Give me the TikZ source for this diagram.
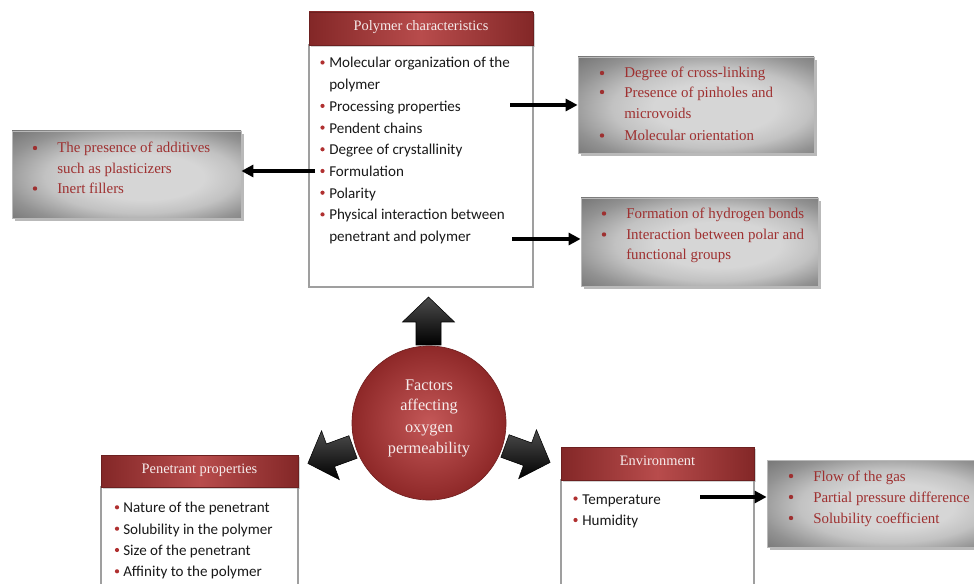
\documentclass[tikz,border=0pt]{standalone}
\usepackage{fontspec}
\setmainfont{Liberation Serif}
\newfontfamily\calib{Carlito}
\usetikzlibrary{fit,shadows,arrows.meta}
\definecolor{hdr}{HTML}{9A2E2E}
\definecolor{hdrlight}{HTML}{B84C4C}
\definecolor{txtred}{HTML}{9E3030}
\definecolor{bul}{HTML}{B03030}
\definecolor{circout}{HTML}{8E2828}
\definecolor{circin}{HTML}{C45858}
\definecolor{lighttxt}{HTML}{F6ECEC}
\definecolor{gin}{HTML}{D6D6D6}
\definecolor{gmid}{HTML}{C2C2C2}
\definecolor{gout}{HTML}{929292}
\definecolor{gcorner}{HTML}{6C6C6C}
\pgfdeclareradialshading{grayglow}{\pgfpoint{5bp}{-2bp}}{color(0bp)=(gin); color(13bp)=(gin); color(21bp)=(gmid); color(30bp)=(gout); color(40bp)=(gcorner); color(60bp)=(gcorner)}
\tikzset{
  hdrbox/.style={inner sep=0pt, draw=hdr!70!black, line width=0.6pt,
    left color=hdr!85!black, right color=hdr!85!black, middle color=hdrlight,
    drop shadow={shadow xshift=1.2pt, shadow yshift=-1.2pt, opacity=0.35}},
  hdrtext/.style={anchor=base, inner sep=0pt, text=lighttxt, font=\fontsize{10.8}{12}\selectfont},
  bodybox/.style={inner sep=0pt, draw=gray!75, line width=1.1pt, fill=white},
  graybox/.style={inner sep=0pt, draw=gray!55, line width=0.6pt, shading=grayglow,
    drop shadow={shadow xshift=2pt, shadow yshift=-2pt, opacity=0.55}},
  citem/.style={anchor=base west, inner sep=0pt, text=black!90, font=\calib\fontsize{11.3}{13}\selectfont},
  titem/.style={anchor=base west, inner sep=0pt, text=txtred, font=\fontsize{11.2}{13}\selectfont},
  ctext/.style={anchor=base, inner sep=0pt, text=lighttxt, font=\fontsize{12.2}{14}\selectfont},
  linkarrow/.style={line width=2.4pt, -{Triangle[length=9pt,width=9pt]}},
  blockarrow/.style={top color=gray!60!black, bottom color=black, middle color=black!85, draw=black, line width=0.4pt},
}
\begin{document}
\begin{tikzpicture}[x=0.75pt,y=-0.75pt]
\useasboundingbox (0,0) rectangle (974,584);
\clip (0,0) rectangle (974,584);
\fill[white] (0,0) rectangle (974,584);

% ---------- Polymer characteristics ----------
\node[bodybox, fit={(309,45)(533,287)}] (pcb) {};
\node[hdrbox, fit={(309,12)(533,45)}] (pch) {};
\node[hdrtext] (pcht) at (421,31) {Polymer characteristics};
\foreach \yy in {62.5,105.9,127.6,149.3,171.0,192.7,214.4} {\fill[bul] (322.5,\yy) circle (2.1);}
\node[citem] (pc1) at (329,68) {Molecular organization of the};
\node[citem] (pc1b) at (329,89.7) {polymer};
\node[citem] (pc2) at (329,111.4) {Processing properties};
\node[citem] (pc3) at (329,133.1) {Pendent chains};
\node[citem] (pc4) at (329,154.8) {Degree of crystallinity};
\node[citem] (pc5) at (329,176.5) {Formulation};
\node[citem] (pc6) at (329,198.2) {Polarity};
\node[citem] (pc7) at (329,219.9) {Physical interaction between};
\node[citem] (pc7b) at (329,241.6) {penetrant and polymer};

% ---------- gray box 1 ----------
\node[graybox, fit={(578,57)(814,153)}] (g1) {};
\foreach \yy in {73,92,135.5} {\fill[txtred] (602,\yy) circle (2.2);}
\node[titem] (g1a) at (624,78) {Degree of cross-linking};
\node[titem] (g1b) at (624,97.5) {Presence of pinholes and};
\node[titem] (g1c) at (624,118.5) {microvoids};
\node[titem] (g1d) at (624,140.5) {Molecular orientation};

% ---------- left gray box ----------
\node[graybox, fit={(12,131)(241,218)}] (lb) {};
\foreach \yy in {148,188.5} {\fill[txtred] (35,\yy) circle (2.2);}
\node[titem] (lba) at (57,153) {The presence of additives};
\node[titem] (lbb) at (57,173.3) {such as plasticizers};
\node[titem] (lbc) at (57,193.5) {Inert fillers};

% ---------- gray box 2 ----------
\node[graybox, fit={(581,198)(818,286)}] (g2) {};
\foreach \yy in {213.5,234.5} {\fill[txtred] (604,\yy) circle (2.2);}
\node[titem] (g2a) at (626,218.5) {Formation of hydrogen bonds};
\node[titem] (g2b) at (626,239.5) {Interaction between polar and};
\node[titem] (g2c) at (626,260) {functional groups};

% ---------- link arrows ----------
\coordinate (a1s) at (510,105);
\coordinate (a2s) at (315,171);
\coordinate (a3s) at (512,239);
\draw[linkarrow] (a1s) -- (g1.west |- a1s);
\draw[linkarrow] (a2s) -- (lb.east |- a2s);
\draw[linkarrow] (a3s) -- (g2.west |- a3s);

% ---------- central circle ----------
\node[circle, minimum size=154*0.75pt, inner sep=0pt, draw=circout!80!black, line width=0.5pt,
      inner color=circin, outer color=circout] (fc) at (429,423) {};
\node[ctext] (fct1) at (429,390) {Factors};
\node[ctext] (fct2) at (429,411) {affecting};
\node[ctext] (fct3) at (429,432) {oxygen};
\node[ctext] (fct4) at (429,453.5) {permeability};

% ---------- block arrows ----------
\begin{scope}[shift={(428.5,345)}, rotate=90]
  \path[blockarrow] (0,-12.5) -- (23,-12.5) -- (23,-26) -- (48,0) -- (23,26) -- (23,12.5) -- (0,12.5) -- cycle;
\end{scope}
\begin{scope}[shift={(353,447)}, rotate=200]
  \path[blockarrow] (0,-12) -- (24,-12) -- (24,-26) -- (48,0) -- (24,26) -- (24,12) -- (0,12) -- cycle;
\end{scope}
\begin{scope}[shift={(505,446)}, rotate=-20]
  \path[blockarrow] (0,-12) -- (24,-12) -- (24,-26) -- (48,0) -- (24,26) -- (24,12) -- (0,12) -- cycle;
\end{scope}

% ---------- Penetrant properties ----------
\node[bodybox, fit={(101,487)(298,600)}] (ppb) {};
\node[hdrbox, fit={(101,455)(298,487)}] (pph) {};
\node[hdrtext] (ppht) at (199.5,473.5) {Penetrant properties};
\foreach \yy in {507.3,528.7,550.0,571.3} {\fill[bul] (117,\yy) circle (2.1);}
\node[citem] (pp1) at (123,512.8) {Nature of the penetrant};
\node[citem] (pp2) at (123,534.2) {Solubility in the polymer};
\node[citem] (pp3) at (123,555.5) {Size of the penetrant};
\node[citem] (pp4) at (123,576.8) {Affinity to the polymer};

% ---------- Environment ----------
\node[bodybox, fit={(561,480)(754,600)}] (enb) {};
\node[hdrbox, fit={(561,447)(754,480)}] (enh) {};
\node[hdrtext] (enht) at (657.5,465) {Environment};
\foreach \yy in {498.5,520} {\fill[bul] (575.5,\yy) circle (2.1);}
\node[citem] (en1) at (582,504) {Temperature};
\node[citem] (en2) at (582,525.5) {Humidity};

% ---------- gray box 3 ----------
\node[graybox, fit={(767,460)(990,547)}] (g3) {};
\foreach \yy in {476,497,518} {\fill[txtred] (791,\yy) circle (2.2);}
\node[titem] (g3a) at (813,481) {Flow of the gas};
\node[titem] (g3b) at (813,502) {Partial pressure difference};
\node[titem] (g3c) at (813,523) {Solubility coefficient};

\coordinate (a4s) at (700,497);
\draw[linkarrow] (a4s) -- (g3.west |- a4s);
\end{tikzpicture}
\end{document}
